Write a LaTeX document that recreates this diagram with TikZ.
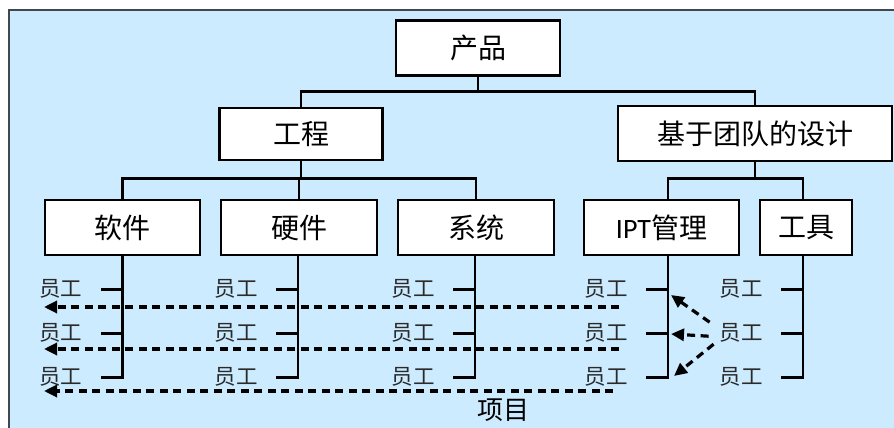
\documentclass[tikz,border=0pt]{standalone}
\usepackage{fontspec}
\newfontfamily\cjk{Noto Sans CJK SC}
\newfontfamily\latinf{Carlito}
\usetikzlibrary{arrows.meta}
\definecolor{panelblue}{HTML}{CCEBFF}
\definecolor{paneledge}{HTML}{40474F}
\definecolor{stafftext}{HTML}{2A2A2A}
\begin{document}
\begin{tikzpicture}[x=1pt,y=-1pt,
  box/.style={draw=black,line width=2.4pt,fill=white,inner sep=0pt,
    font=\cjk\fontsize{28}{31}\selectfont},
  conn/.style={line width=2.6pt},
  staff/.style={font=\cjk\fontsize{21.5}{24}\selectfont,text=stafftext,inner sep=0pt,anchor=east},
  darr/.style={line width=3.2pt,dash pattern=on 8pt off 5.5pt,
    -{Triangle[length=13pt,width=12pt]}},
  lbl/.style={font=\cjk\fontsize{26}{30}\selectfont,inner sep=0pt}
]
\useasboundingbox (0,0) rectangle (894,428);
\fill[panelblue] (9,10) rectangle (894,428);
\draw[paneledge,line width=1.8pt] (9,428) -- (9,10) -- (894,10);

% boxes
\node[box,minimum width=164pt,minimum height=55pt] (prod) at (478,48) {产品};
\node[box,minimum width=163pt,minimum height=52pt] (eng) at (301,134) {工程};
\node[box,minimum width=274pt,minimum height=55pt] (team) at (755,133.5) {基于团队的设计};
\node[box,minimum width=155pt,minimum height=55pt] (sw) at (122.5,227.5) {软件};
\node[box,minimum width=156pt,minimum height=55pt] (hw) at (299,227.5) {硬件};
\node[box,minimum width=156pt,minimum height=55pt] (sys) at (476,227.5) {系统};
\node[box,minimum width=155pt,minimum height=55pt] (ipt) at (661.5,227.5) {{\latinf IPT}管理};
\node[box,minimum width=92pt,minimum height=55pt] (tool) at (806,227.5) {工具};

% tree connectors
\draw[conn] (prod.south) -- ++(0,15) -| (eng.north);
\draw[conn] (prod.south) -- ++(0,15) -| (team.north);
\draw[conn] (eng.south) -- ++(0,17) -| (sw.north);
\draw[conn] (eng.south) -- ++(0,17) -| (hw.north);
\draw[conn] (eng.south) -- ++(0,17) -| (sys.north);
\draw[conn] (team.south) -- ++(0,16) -| ([xshift=6.5pt]ipt.north);
\draw[conn] (team.south) -- ++(0,16) -| ([xshift=-3pt]tool.north);

% staff columns
\foreach \n/\s in {sw/0,hw/-1,sys/-1,ipt/6.5,tool/-3} {
  \draw[conn] ([xshift=\s pt]\n.south) coordinate (\n-top) -- ++(0,121) -- ++(-22,0) coordinate (\n-t3);
  \draw[conn] (\n-top) ++(0,33) -- ++(-22,0) coordinate (\n-t1);
  \draw[conn] (\n-top) ++(0,77) -- ++(-22,0) coordinate (\n-t2);
  \foreach \k in {1,2,3}
    \node[staff] (\n-s\k) at ([xshift=-18pt]\n-t\k) {员工};
}

% project dashed arrows
\coordinate (p1s) at (619,307); \coordinate (p1e) at (44,307);
\coordinate (p2s) at (619,349); \coordinate (p2e) at (44,349);
\coordinate (p3s) at (613,391); \coordinate (p3e) at (44,391);
\draw[darr] (p1s) -- (p1e);
\draw[darr] (p2s) -- (p2e);
\draw[darr] (p3s) -- (p3e);

% tool staff to IPT arrows
\coordinate (a1) at (671,295);
\coordinate (a2) at (671,334);
\coordinate (a3) at (674,376);
\draw[darr] ([shift={(-10,-11)}]tool-s2.west) -- (a1);
\draw[darr] ([shift={(-11,3)}]tool-s2.west) -- (a2);
\draw[darr] ([shift={(-6,11)}]tool-s2.west) -- (a3);

\node[lbl] (proj) at (503,410) {项目};
\end{tikzpicture}
\end{document}
